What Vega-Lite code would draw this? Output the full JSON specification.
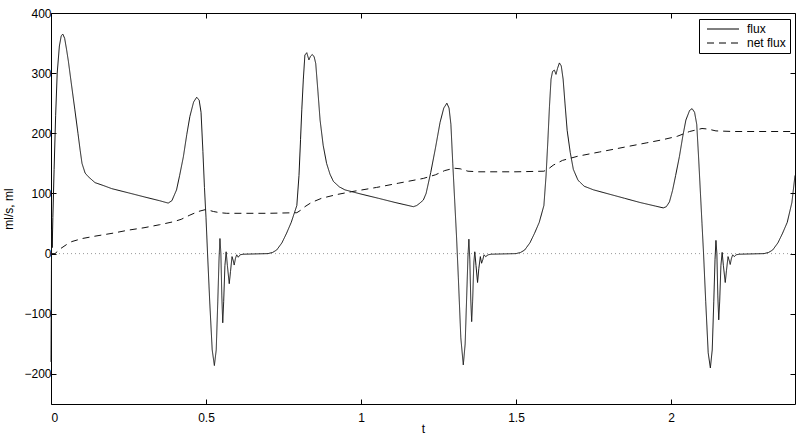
{
  "$schema": "https://vega.github.io/schema/vega-lite/v6.json",
  "width": 744,
  "height": 391,
  "autosize": "none",
  "padding": {"left": 51, "top": 13, "right": 8, "bottom": 35},
  "background": "white",
  "config": {
    "view": {"stroke": null},
    "font": "Liberation Sans",
    "axis": {
      "domainColor": "black",
      "domainWidth": 1,
      "tickColor": "black",
      "tickWidth": 1,
      "tickSize": -5,
      "grid": false,
      "labelFont": "Liberation Sans",
      "labelFontSize": 12,
      "labelColor": "black",
      "titleFont": "Liberation Sans",
      "titleFontSize": 12,
      "titleFontWeight": "normal",
      "titleColor": "black"
    },
    "legend": {
      "labelFont": "Liberation Sans",
      "labelFontSize": 12,
      "labelColor": "black"
    }
  },
  "layer": [
    {
      "data": {"values": [{"t": 0, "v": 0}, {"t": 2.4, "v": 0}]},
      "mark": {"type": "line", "color": "#999999", "strokeWidth": 1, "strokeDash": [1, 3]},
      "encoding": {
        "x": {"field": "t", "type": "quantitative", "scale": {"domain": [0, 2.4], "nice": false, "zero": false},
              "axis": {"orient": "top", "labels": false, "title": null, "values": [0, 0.5, 1, 1.5, 2]}},
        "y": {"field": "v", "type": "quantitative", "scale": {"domain": [-250, 400], "nice": false, "zero": false},
              "axis": {"orient": "right", "labels": false, "title": null, "values": [-200, -100, 0, 100, 200, 300, 400]}}
      }
    },
    {
      "data": {"values": [
        {"series": "flux", "t": 0, "v": -180},
        {"series": "flux", "t": 0.002, "v": 40},
        {"series": "flux", "t": 0.004, "v": 10},
        {"series": "flux", "t": 0.006, "v": 60},
        {"series": "flux", "t": 0.01, "v": 140},
        {"series": "flux", "t": 0.015, "v": 230},
        {"series": "flux", "t": 0.02, "v": 300},
        {"series": "flux", "t": 0.027, "v": 345},
        {"series": "flux", "t": 0.033, "v": 362},
        {"series": "flux", "t": 0.038, "v": 365},
        {"series": "flux", "t": 0.044, "v": 358},
        {"series": "flux", "t": 0.05, "v": 340},
        {"series": "flux", "t": 0.056, "v": 320},
        {"series": "flux", "t": 0.065, "v": 285},
        {"series": "flux", "t": 0.077, "v": 239},
        {"series": "flux", "t": 0.087, "v": 200},
        {"series": "flux", "t": 0.094, "v": 172},
        {"series": "flux", "t": 0.1, "v": 150},
        {"series": "flux", "t": 0.11, "v": 134},
        {"series": "flux", "t": 0.12, "v": 128},
        {"series": "flux", "t": 0.142, "v": 118},
        {"series": "flux", "t": 0.17, "v": 113},
        {"series": "flux", "t": 0.196, "v": 108},
        {"series": "flux", "t": 0.25, "v": 101},
        {"series": "flux", "t": 0.303, "v": 94},
        {"series": "flux", "t": 0.35, "v": 88},
        {"series": "flux", "t": 0.378, "v": 84},
        {"series": "flux", "t": 0.39, "v": 88},
        {"series": "flux", "t": 0.405, "v": 106},
        {"series": "flux", "t": 0.415, "v": 130},
        {"series": "flux", "t": 0.427, "v": 161},
        {"series": "flux", "t": 0.438, "v": 198},
        {"series": "flux", "t": 0.448, "v": 228},
        {"series": "flux", "t": 0.46, "v": 252},
        {"series": "flux", "t": 0.47, "v": 260},
        {"series": "flux", "t": 0.478, "v": 255},
        {"series": "flux", "t": 0.484, "v": 235},
        {"series": "flux", "t": 0.49, "v": 170},
        {"series": "flux", "t": 0.495, "v": 110},
        {"series": "flux", "t": 0.5, "v": 60},
        {"series": "flux", "t": 0.505, "v": 0},
        {"series": "flux", "t": 0.512, "v": -80},
        {"series": "flux", "t": 0.52, "v": -160},
        {"series": "flux", "t": 0.527, "v": -186},
        {"series": "flux", "t": 0.533, "v": -160},
        {"series": "flux", "t": 0.538, "v": -80},
        {"series": "flux", "t": 0.542, "v": -10},
        {"series": "flux", "t": 0.545, "v": 25},
        {"series": "flux", "t": 0.548, "v": 0},
        {"series": "flux", "t": 0.551, "v": -70},
        {"series": "flux", "t": 0.554, "v": -115},
        {"series": "flux", "t": 0.557, "v": -80},
        {"series": "flux", "t": 0.561, "v": -20},
        {"series": "flux", "t": 0.565, "v": 3},
        {"series": "flux", "t": 0.569, "v": -20},
        {"series": "flux", "t": 0.575, "v": -50},
        {"series": "flux", "t": 0.579, "v": -30},
        {"series": "flux", "t": 0.584, "v": -5},
        {"series": "flux", "t": 0.588, "v": -12},
        {"series": "flux", "t": 0.591, "v": -19},
        {"series": "flux", "t": 0.595, "v": -8},
        {"series": "flux", "t": 0.599, "v": -2},
        {"series": "flux", "t": 0.604, "v": -6},
        {"series": "flux", "t": 0.61, "v": -2},
        {"series": "flux", "t": 0.62, "v": -1},
        {"series": "flux", "t": 0.7, "v": 0},
        {"series": "flux", "t": 0.715, "v": 2},
        {"series": "flux", "t": 0.728, "v": 6},
        {"series": "flux", "t": 0.745, "v": 18},
        {"series": "flux", "t": 0.76, "v": 34},
        {"series": "flux", "t": 0.775, "v": 52},
        {"series": "flux", "t": 0.793, "v": 80},
        {"series": "flux", "t": 0.8, "v": 130},
        {"series": "flux", "t": 0.805, "v": 190},
        {"series": "flux", "t": 0.809, "v": 239},
        {"series": "flux", "t": 0.814, "v": 290},
        {"series": "flux", "t": 0.819, "v": 330},
        {"series": "flux", "t": 0.825, "v": 334},
        {"series": "flux", "t": 0.832, "v": 322},
        {"series": "flux", "t": 0.837, "v": 328},
        {"series": "flux", "t": 0.843, "v": 331},
        {"series": "flux", "t": 0.849, "v": 327},
        {"series": "flux", "t": 0.854, "v": 316},
        {"series": "flux", "t": 0.861, "v": 270},
        {"series": "flux", "t": 0.868, "v": 222},
        {"series": "flux", "t": 0.878, "v": 180},
        {"series": "flux", "t": 0.889, "v": 150},
        {"series": "flux", "t": 0.9, "v": 132},
        {"series": "flux", "t": 0.911, "v": 120},
        {"series": "flux", "t": 0.93, "v": 111},
        {"series": "flux", "t": 0.948, "v": 106},
        {"series": "flux", "t": 1.0, "v": 99},
        {"series": "flux", "t": 1.056, "v": 92},
        {"series": "flux", "t": 1.11, "v": 85},
        {"series": "flux", "t": 1.169, "v": 78},
        {"series": "flux", "t": 1.18, "v": 80},
        {"series": "flux", "t": 1.19, "v": 84},
        {"series": "flux", "t": 1.201, "v": 89},
        {"series": "flux", "t": 1.21, "v": 100},
        {"series": "flux", "t": 1.225, "v": 135},
        {"series": "flux", "t": 1.24, "v": 175},
        {"series": "flux", "t": 1.255, "v": 218},
        {"series": "flux", "t": 1.267, "v": 242},
        {"series": "flux", "t": 1.277, "v": 250},
        {"series": "flux", "t": 1.284, "v": 242},
        {"series": "flux", "t": 1.29, "v": 215},
        {"series": "flux", "t": 1.296, "v": 150},
        {"series": "flux", "t": 1.302, "v": 90},
        {"series": "flux", "t": 1.308, "v": 30},
        {"series": "flux", "t": 1.314, "v": -40},
        {"series": "flux", "t": 1.322, "v": -140},
        {"series": "flux", "t": 1.33, "v": -185},
        {"series": "flux", "t": 1.336, "v": -150},
        {"series": "flux", "t": 1.341, "v": -70},
        {"series": "flux", "t": 1.345, "v": -5},
        {"series": "flux", "t": 1.348, "v": 24},
        {"series": "flux", "t": 1.351, "v": -10},
        {"series": "flux", "t": 1.354, "v": -75},
        {"series": "flux", "t": 1.357, "v": -113},
        {"series": "flux", "t": 1.36, "v": -80},
        {"series": "flux", "t": 1.364, "v": -15},
        {"series": "flux", "t": 1.367, "v": 3},
        {"series": "flux", "t": 1.371, "v": -20},
        {"series": "flux", "t": 1.376, "v": -48},
        {"series": "flux", "t": 1.38, "v": -25},
        {"series": "flux", "t": 1.385, "v": -5},
        {"series": "flux", "t": 1.389, "v": -16},
        {"series": "flux", "t": 1.393, "v": -10},
        {"series": "flux", "t": 1.397, "v": -2},
        {"series": "flux", "t": 1.402, "v": -5},
        {"series": "flux", "t": 1.41, "v": -2},
        {"series": "flux", "t": 1.42, "v": -1},
        {"series": "flux", "t": 1.5, "v": 0},
        {"series": "flux", "t": 1.515, "v": 2},
        {"series": "flux", "t": 1.528, "v": 6},
        {"series": "flux", "t": 1.545, "v": 18},
        {"series": "flux", "t": 1.56, "v": 34},
        {"series": "flux", "t": 1.575, "v": 52},
        {"series": "flux", "t": 1.59, "v": 80},
        {"series": "flux", "t": 1.597, "v": 130},
        {"series": "flux", "t": 1.603, "v": 190},
        {"series": "flux", "t": 1.608, "v": 245},
        {"series": "flux", "t": 1.613, "v": 290},
        {"series": "flux", "t": 1.618, "v": 303},
        {"series": "flux", "t": 1.624, "v": 305},
        {"series": "flux", "t": 1.629, "v": 298},
        {"series": "flux", "t": 1.634, "v": 308},
        {"series": "flux", "t": 1.64, "v": 317},
        {"series": "flux", "t": 1.646, "v": 312},
        {"series": "flux", "t": 1.652, "v": 290},
        {"series": "flux", "t": 1.658, "v": 250},
        {"series": "flux", "t": 1.665, "v": 205},
        {"series": "flux", "t": 1.675, "v": 168},
        {"series": "flux", "t": 1.685, "v": 140},
        {"series": "flux", "t": 1.7, "v": 122},
        {"series": "flux", "t": 1.72, "v": 112},
        {"series": "flux", "t": 1.75, "v": 106},
        {"series": "flux", "t": 1.8, "v": 99},
        {"series": "flux", "t": 1.85, "v": 92},
        {"series": "flux", "t": 1.9, "v": 85},
        {"series": "flux", "t": 1.95, "v": 79},
        {"series": "flux", "t": 1.975, "v": 76},
        {"series": "flux", "t": 1.985, "v": 78},
        {"series": "flux", "t": 1.995, "v": 86},
        {"series": "flux", "t": 2.005, "v": 105},
        {"series": "flux", "t": 2.015, "v": 130},
        {"series": "flux", "t": 2.027, "v": 161},
        {"series": "flux", "t": 2.038, "v": 195},
        {"series": "flux", "t": 2.048, "v": 222},
        {"series": "flux", "t": 2.06, "v": 238},
        {"series": "flux", "t": 2.068, "v": 241},
        {"series": "flux", "t": 2.076, "v": 235},
        {"series": "flux", "t": 2.083, "v": 215},
        {"series": "flux", "t": 2.089, "v": 160},
        {"series": "flux", "t": 2.095, "v": 100},
        {"series": "flux", "t": 2.1, "v": 50},
        {"series": "flux", "t": 2.105, "v": 0},
        {"series": "flux", "t": 2.112, "v": -80},
        {"series": "flux", "t": 2.12, "v": -165},
        {"series": "flux", "t": 2.127, "v": -190},
        {"series": "flux", "t": 2.133, "v": -160},
        {"series": "flux", "t": 2.138, "v": -80},
        {"series": "flux", "t": 2.142, "v": -10},
        {"series": "flux", "t": 2.145, "v": 22},
        {"series": "flux", "t": 2.148, "v": 0},
        {"series": "flux", "t": 2.151, "v": -70},
        {"series": "flux", "t": 2.154, "v": -110},
        {"series": "flux", "t": 2.157, "v": -80},
        {"series": "flux", "t": 2.161, "v": -20},
        {"series": "flux", "t": 2.165, "v": 2},
        {"series": "flux", "t": 2.169, "v": -20},
        {"series": "flux", "t": 2.175, "v": -48},
        {"series": "flux", "t": 2.179, "v": -28},
        {"series": "flux", "t": 2.184, "v": -5},
        {"series": "flux", "t": 2.188, "v": -12},
        {"series": "flux", "t": 2.191, "v": -18},
        {"series": "flux", "t": 2.195, "v": -8},
        {"series": "flux", "t": 2.199, "v": -2},
        {"series": "flux", "t": 2.204, "v": -5},
        {"series": "flux", "t": 2.21, "v": -2},
        {"series": "flux", "t": 2.22, "v": -1},
        {"series": "flux", "t": 2.3, "v": 0},
        {"series": "flux", "t": 2.315, "v": 2},
        {"series": "flux", "t": 2.328, "v": 6},
        {"series": "flux", "t": 2.345, "v": 18},
        {"series": "flux", "t": 2.36, "v": 34},
        {"series": "flux", "t": 2.375, "v": 52},
        {"series": "flux", "t": 2.39, "v": 85},
        {"series": "flux", "t": 2.4, "v": 130},
        {"series": "net flux", "t": 0, "v": 0},
        {"series": "net flux", "t": 0.013, "v": 0},
        {"series": "net flux", "t": 0.03, "v": 8},
        {"series": "net flux", "t": 0.05, "v": 15},
        {"series": "net flux", "t": 0.067, "v": 20},
        {"series": "net flux", "t": 0.1, "v": 25},
        {"series": "net flux", "t": 0.142, "v": 29},
        {"series": "net flux", "t": 0.2, "v": 34},
        {"series": "net flux", "t": 0.249, "v": 39},
        {"series": "net flux", "t": 0.3, "v": 43},
        {"series": "net flux", "t": 0.35, "v": 48},
        {"series": "net flux", "t": 0.395, "v": 53},
        {"series": "net flux", "t": 0.42, "v": 57},
        {"series": "net flux", "t": 0.448, "v": 64},
        {"series": "net flux", "t": 0.475, "v": 70},
        {"series": "net flux", "t": 0.497, "v": 73},
        {"series": "net flux", "t": 0.51, "v": 72},
        {"series": "net flux", "t": 0.524, "v": 70},
        {"series": "net flux", "t": 0.545, "v": 68},
        {"series": "net flux", "t": 0.567, "v": 67},
        {"series": "net flux", "t": 0.7, "v": 67},
        {"series": "net flux", "t": 0.793, "v": 68},
        {"series": "net flux", "t": 0.805, "v": 72},
        {"series": "net flux", "t": 0.819, "v": 78},
        {"series": "net flux", "t": 0.84, "v": 85},
        {"series": "net flux", "t": 0.873, "v": 92},
        {"series": "net flux", "t": 0.92, "v": 98},
        {"series": "net flux", "t": 0.97, "v": 103},
        {"series": "net flux", "t": 1.05, "v": 110},
        {"series": "net flux", "t": 1.12, "v": 117},
        {"series": "net flux", "t": 1.201, "v": 125},
        {"series": "net flux", "t": 1.24, "v": 131},
        {"series": "net flux", "t": 1.27, "v": 138},
        {"series": "net flux", "t": 1.3, "v": 142},
        {"series": "net flux", "t": 1.32, "v": 141},
        {"series": "net flux", "t": 1.345, "v": 137},
        {"series": "net flux", "t": 1.38, "v": 136},
        {"series": "net flux", "t": 1.5, "v": 136},
        {"series": "net flux", "t": 1.59, "v": 137},
        {"series": "net flux", "t": 1.605, "v": 141},
        {"series": "net flux", "t": 1.62, "v": 147},
        {"series": "net flux", "t": 1.65, "v": 155},
        {"series": "net flux", "t": 1.7, "v": 162},
        {"series": "net flux", "t": 1.77, "v": 169},
        {"series": "net flux", "t": 1.85, "v": 177},
        {"series": "net flux", "t": 1.92, "v": 184},
        {"series": "net flux", "t": 1.97, "v": 189},
        {"series": "net flux", "t": 2.02, "v": 195},
        {"series": "net flux", "t": 2.06, "v": 203},
        {"series": "net flux", "t": 2.1, "v": 208},
        {"series": "net flux", "t": 2.12, "v": 207},
        {"series": "net flux", "t": 2.145, "v": 204},
        {"series": "net flux", "t": 2.2, "v": 203},
        {"series": "net flux", "t": 2.4, "v": 203}
      ]},
      "mark": {"type": "line", "color": "#111111", "strokeWidth": 1},
      "encoding": {
        "x": {"field": "t", "type": "quantitative", "scale": {"domain": [0, 2.4], "nice": false, "zero": false},
              "axis": {"orient": "bottom", "title": "t", "format": "~g", "values": [0, 0.5, 1, 1.5, 2], "labelPadding": 13, "titlePadding": 0}},
        "y": {"field": "v", "type": "quantitative", "scale": {"domain": [-250, 400], "nice": false, "zero": false},
              "axis": {"orient": "left", "title": "ml/s, ml", "values": [-200, -100, 0, 100, 200, 300, 400], "labelPadding": 5, "titlePadding": 8}},
        "strokeDash": {
          "field": "series", "type": "nominal",
          "scale": {"domain": ["flux", "net flux"], "range": [[1, 0], [7, 5]]},
          "legend": {
            "title": null,
            "orient": "none",
            "legendX": 648,
            "legendY": 6,
            "strokeColor": "black",
            "fillColor": "white",
            "padding": 4,
            "rowPadding": 2,
            "symbolType": "M-0.4,0H6",
            "symbolSize": 100,
            "symbolStrokeColor": "black",
            "symbolFillColor": "transparent",
            "symbolStrokeWidth": 1,
            "labelOffset": 32
          }
        }
      }
    }
  ],
  "resolve": {"axis": {"x": "independent", "y": "independent"}}
}
